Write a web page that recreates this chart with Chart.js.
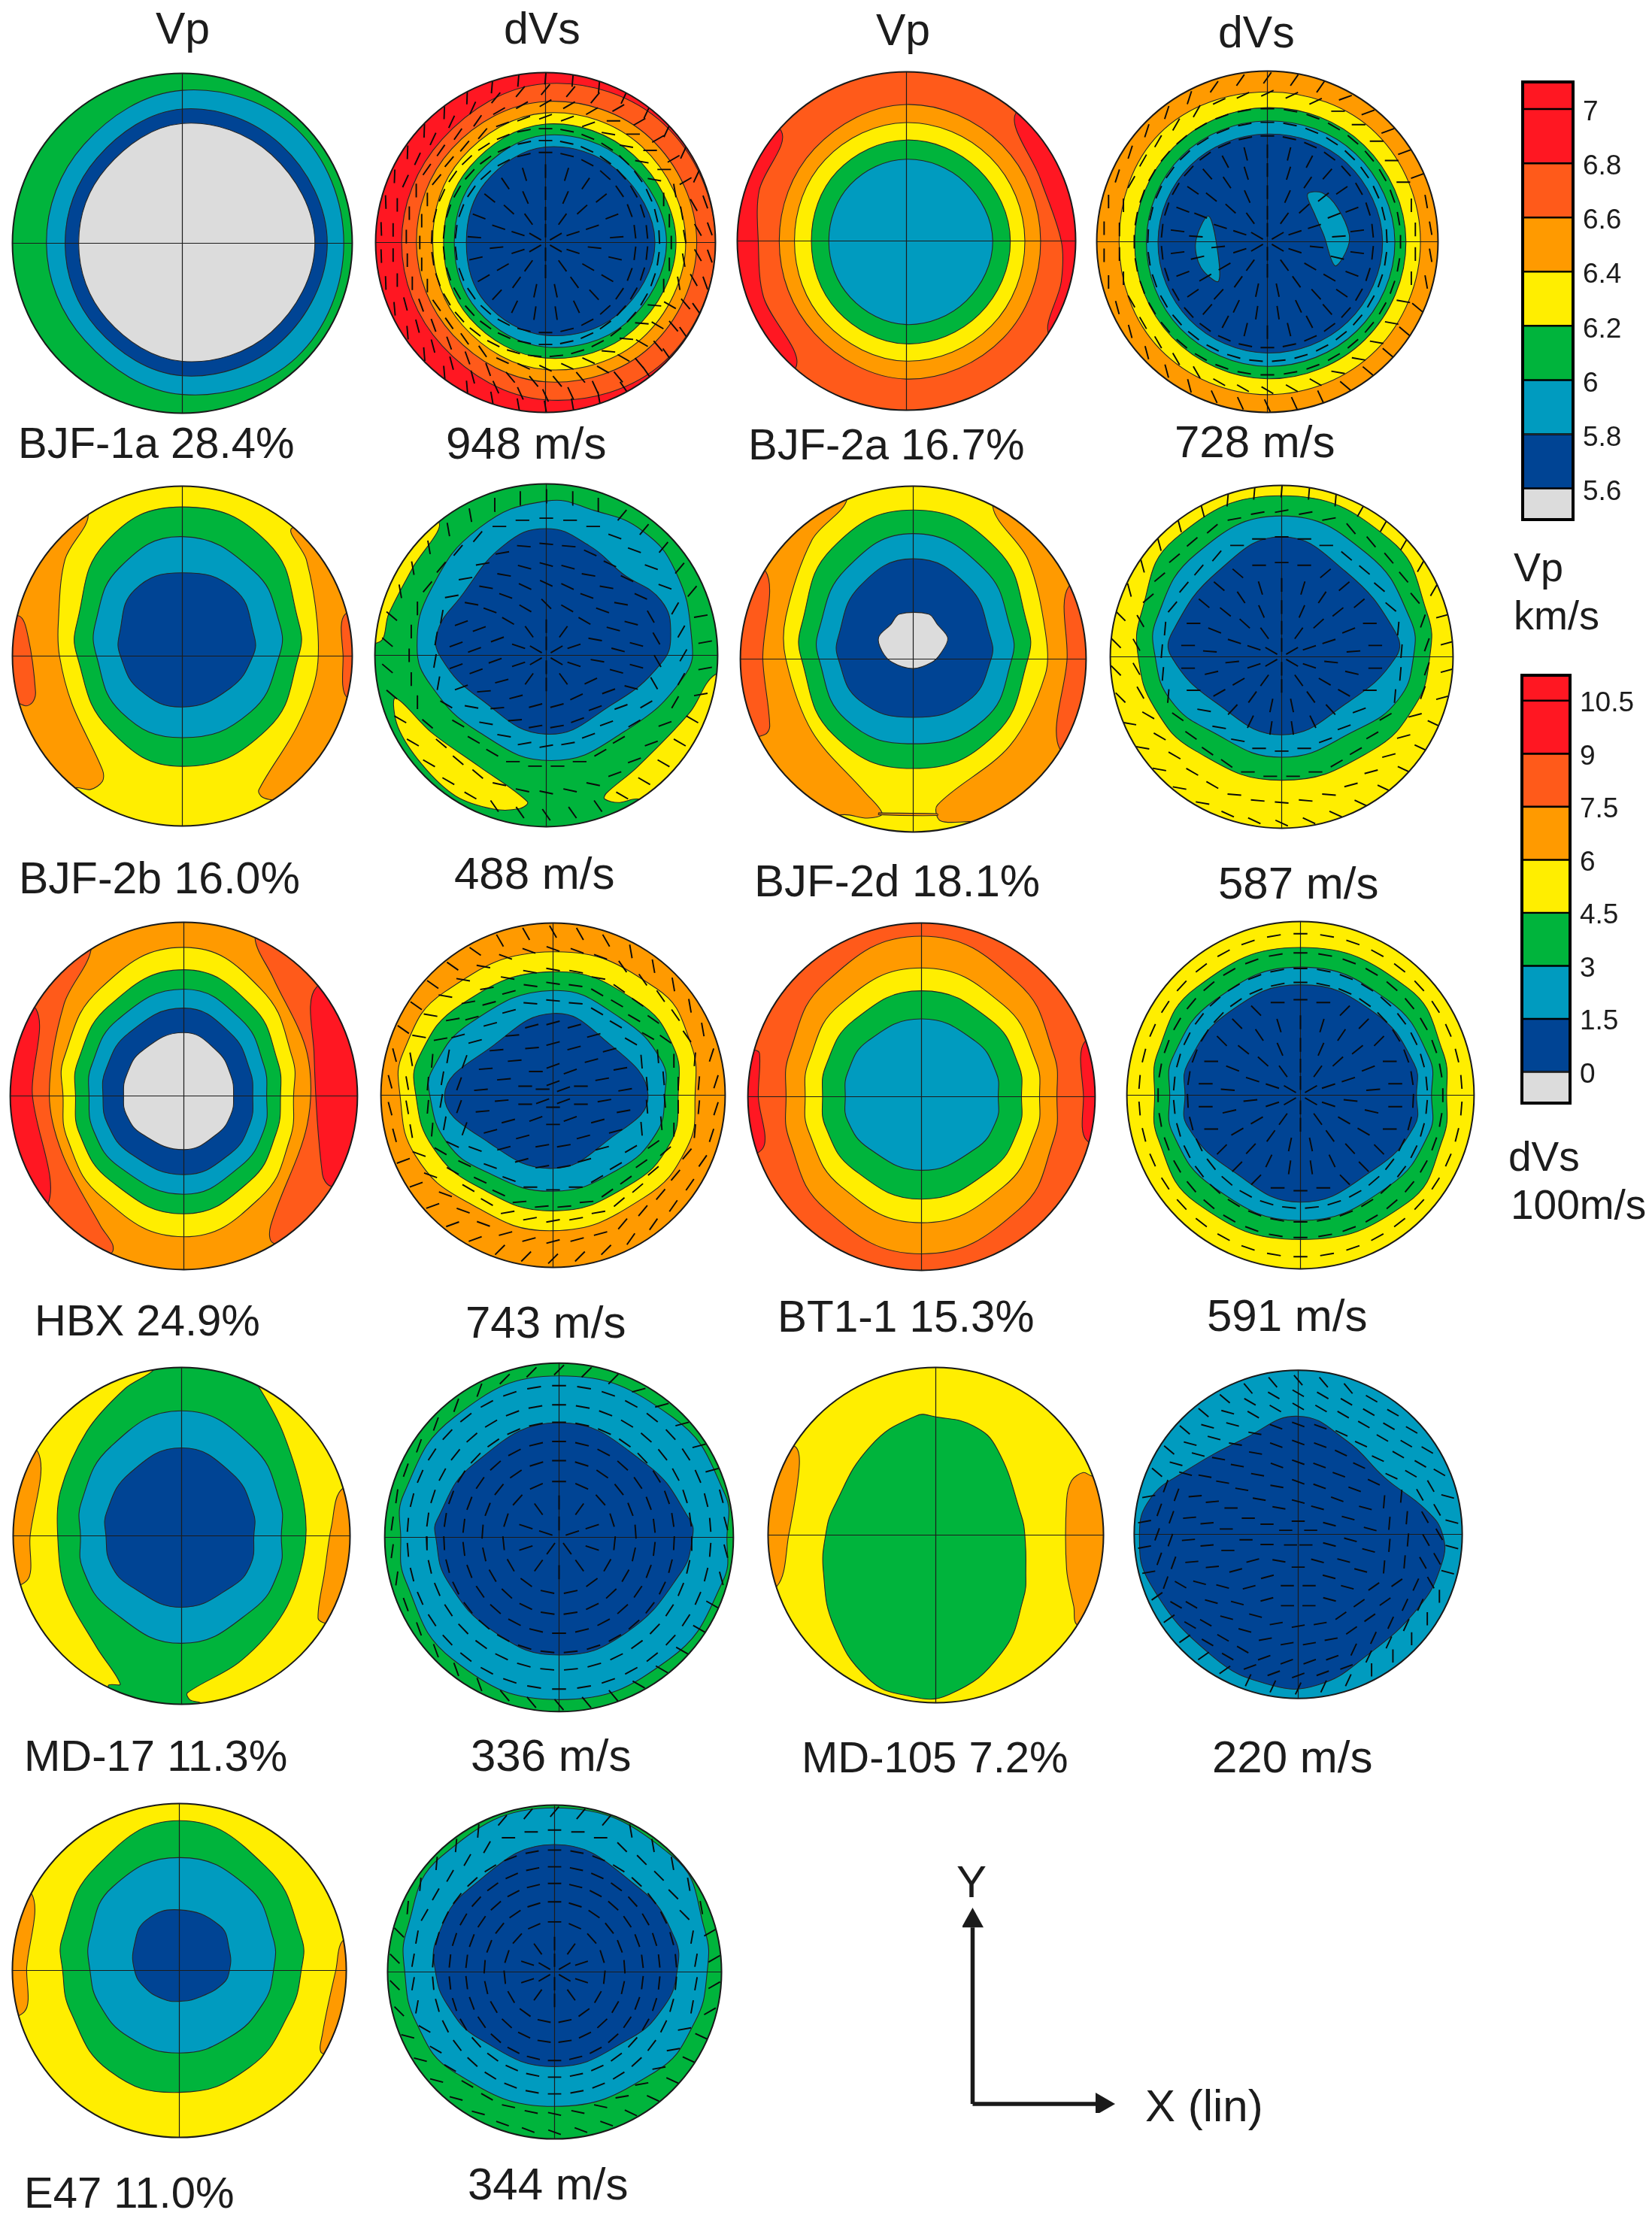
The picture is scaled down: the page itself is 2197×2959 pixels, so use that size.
<!DOCTYPE html>
<html><head><meta charset="utf-8">
<script src="https://cdn.jsdelivr.net/npm/chart.js@4"></script>
<style>
html,body{margin:0;padding:0;background:#fff;width:2197px;height:2959px;overflow:hidden}
canvas{position:absolute}
.t{position:absolute;font-family:"Liberation Sans",Arial,sans-serif;line-height:1;white-space:pre;color:#1c1c1c}
</style></head><body>
<script>
/* ---- colour bands: index = band, lowest first ---- */
const bandColors=['#dcdcdc','#004494','#009bbf','#00b43c','#ffee00','#ff9a00','#ff5a1a','#ff1722'];

/* ---- colour bars ---- */
const vpTicks=[5.6,5.8,6,6.2,6.4,6.6,6.8,7];
const vpBars=[[5.485,5.6],[5.6,5.8],[5.8,6],[6,6.2],[6.2,6.4],[6.4,6.6],[6.6,6.8],[6.8,7],[7,7.1]];
const vpBarBands=[0,1,2,3,4,5,6,7,7];
const dvsTicks=[0,1.5,3,4.5,6,7.5,9,10.5];
const dvsBars=[[-0.883,0],[0,1.5],[1.5,3],[3,4.5],[4.5,6],[6,7.5],[7.5,9],[9,10.5],[10.5,11.22]];
const dvsBarBands=[0,1,2,3,4,5,6,7,7];

/* ---- contours: [band, values]. 8 values = radius at E,NE,N,NW,W,SW,S,SE; otherwise x,y pairs on the unit net ---- */
const OUT=[1.3,1.3,1.3,1.3,1.3,1.3,1.3,1.3];
const vpBJF1a=[[3,OUT],
[2,[.95,.95,.9,.82,.8,.81,.89,.95]],
[1,[.853,.82,.79,.71,.69,.71,.78,.82]],
[0,[.78,.74,.705,.63,.61,.63,.695,.74]]];
const dvBJF1a=[[7,OUT],
[6,[1,.985,.935,.86,.847,.86,.926,.99]],
[5,[.89,.87,.83,.78,.76,.77,.82,.87]],
[4,[.825,.8,.763,.7,.664,.69,.748,.8]],
[3,[.768,.73,.697,.63,.6,.63,.68,.73]],
[2,[.712,.67,.632,.565,.537,.565,.615,.67]],
[1,[.644,.6,.562,.5,.466,.5,.546,.6]]];
const vpBJF2a=[[6,OUT],
[7,[-.74,.65,-.87,.3,-.876,0,-.845,-.33,-.655,-.75,-1.2,-1,-1.2,.9]],
[7,[.65,.76,.79,.37,.915,0,.915,-.24,.845,-.56,1.2,-.7,1.2,.9]],
[5,[.793,.8,.807,.77,.752,.77,.816,.81]],
[4,[.7,.7,.7,.68,.662,.68,.71,.71]],
[3,[.614,.6,.597,.58,.562,.58,.608,.61]],
[2,[.51,.49,.483,.47,.459,.47,.494,.5]]];
const dvBJF2a=[[5,OUT],
[4,[.897,.9,.878,.895,.869,.89,.896,.9]],
[3,[.812,.8,.786,.78,.778,.79,.803,.81]],
[2,[.747,.73,.708,.71,.709,.72,.73,.74]],
[1,[.675,.655,.631,.635,.641,.645,.652,.665]],
[2,[-.347,.151,-.3,0,-.286,-.231,-.39,-.15,-.42,0]],
[2,[.235,.278,.32,.287,.41,.2,.48,.04,.46,-.06,.395,-.14,.33,.04,.275,.166]]];
const vpBJF2b=[[4,OUT],
[5,[-.554,.83,-.69,.57,-.73,.195,-.723,0,-.65,-.28,-.47,-.67,-.47,-.737,-.54,-.785,-.63,-.775,-1.2,-.9,-1.2,.9,-.7,.95]],
[5,[.647,.754,.73,.567,.794,.195,.788,-.11,.675,-.415,.45,-.788,.47,-.83,.534,-.847,1.2,-.9,1.2,.8]],
[6,[-.963,.237,-.907,.11,-.864,-.21,-.88,-.27,-.92,-.293,-.98,-.27,-1.2,-.2,-1.2,.2]],
[6,[.958,.246,.946,0,.97,-.245,1.2,-.25,1.2,.25]],
[3,[.684,0,.684,.2,.5,.67,0,.878,-.45,.67,-.619,.2,-.619,0,-.43,-.43,0,-.649,.5,-.43]],
[2,[.57,0,.57,.2,.42,.5,0,.703,-.37,.52,-.51,.2,-.505,0,-.36,-.33,0,-.48,.4,-.33]],
[1,[.415,0,.42,.13,.31,.39,0,.49,-.28,.39,-.37,.13,-.364,0,-.25,-.2,0,-.3,.28,-.19]]];
const dvBJF2b=[[3,OUT],
[4,[-.63,.78,-.78,.51,-.92,.24,-.97,.08,-1.2,.1,-1.1,.8]],
[4,[-.88,-.25,-.67,-.45,-.39,-.65,-.11,-.855,-.154,-.894,-.307,-.897,-.53,-.82,-.726,-.636,-.866,-.417]],
[4,[.983,-.114,.838,-.333,.53,-.653,.35,-.805,.34,-.838,.42,-.859,.53,-.838,1.2,-.9,1.2,-.1]],
[2,[.846,.12,.754,.49,.56,.727,.28,.845,0,.9,-.39,.744,-.67,.39,-.754,.054,-.67,-.18,-.39,-.45,.028,-.614,.447,-.45,.81,-.114]],
[1,[.726,.12,.67,.32,.447,.475,.25,.64,0,.739,-.25,.64,-.5,.34,-.634,.14,-.615,-.013,-.39,-.25,0,-.46,.39,-.283,.67,-.047]]];
const vpBJF2d=[[4,OUT],
[5,[-.383,.925,-.585,.69,-.737,.244,-.737,0,-.585,-.42,-.28,-.77,-.18,-.894,-.264,-.92,-.4,-.9,-1.2,-.95,-1.2,.95,-.5,1.1]],
[5,[.46,.884,.663,.576,.764,.16,.764,-.09,.56,-.5,.14,-.844,.157,-.935,.325,-.94,1.2,-.95,1.2,.9,.6,1.1]],
[5,[-.2,-.89,.14,-.895,.14,-.905,-.2,-.9,-.2,-.89]],
[6,[-.855,.51,-.87,0,-.83,-.387,-.86,-.437,-1.2,-.5,-1.2,.5]],
[6,[.9,.42,.89,0,.848,-.52,1.2,-.6,1.2,.45]],
[3,[.663,0,.66,.2,.48,.64,0,.862,-.47,.64,-.645,.2,-.646,0,-.46,-.44,0,-.633,.47,-.44]],
[2,[.57,0,.565,.17,.41,.52,0,.726,-.39,.52,-.545,.17,-.545,0,-.39,-.35,0,-.49,.41,-.35]],
[1,[.45,0,.445,.13,.32,.42,0,.58,-.31,.42,-.433,.13,-.433,0,-.31,-.24,0,-.337,.32,-.24]],
[0,[-.08,.26,.09,.26,.14,.2,.2,.12,.157,.03,.106,-.02,0,-.055,-.12,-.02,-.18,.045,-.2,.127,-.13,.2]]];
const dvBJF2d=[[4,OUT],
[3,[.864,0,.85,.25,.63,.685,0,.94,-.626,.685,-.82,.25,-.837,0,-.74,-.3,-.5,-.55,0,-.72,.52,-.55,.78,-.28]],
[2,[.769,0,.75,.22,.5,.6,0,.822,-.5,.6,-.73,.22,-.738,0,-.65,-.25,-.42,-.43,0,-.586,.43,-.43,.68,-.25]],
[1,[.667,0,.66,.15,.37,.5,0,.7,-.37,.5,-.635,.15,-.643,0,-.38,-.27,0,-.455,.38,-.27]]];
const vpHBX=[[5,OUT],
[6,[-.535,.84,-.69,.53,-.775,.014,-.7,-.333,-.48,-.748,-.41,-.856,-.42,-.905,-1.2,-1,-1.2,1,-.6,1]],
[6,[.41,.91,.516,.677,.71,.246,.71,-.168,.5,-.748,.516,-.848,1.2,-1,1.2,1,.5,1]],
[7,[-.853,.503,-.873,.014,-.784,-.624,-1.2,-.7,-1.2,.55]],
[7,[.765,.627,.75,.246,.798,-.45,.848,-.52,1.2,-.55,1.2,.7]],
[4,[.632,0,.625,.22,.44,.62,0,.856,-.48,.62,-.69,.22,-.696,0,-.67,-.25,-.47,-.585,0,-.811,.44,-.585,.61,-.25]],
[3,[.557,0,.54,.2,.39,.52,0,.727,-.43,.52,-.61,.2,-.624,0,-.6,-.22,-.42,-.49,0,-.679,.38,-.49,.53,-.22]],
[2,[.477,0,.46,.18,.33,.44,0,.615,-.38,.44,-.53,.18,-.546,0,-.52,-.2,-.37,-.41,0,-.566,.32,-.41,.46,-.2]],
[1,[.397,0,.38,.15,.27,.36,0,.506,-.32,.36,-.45,.15,-.466,0,-.44,-.16,-.31,-.33,0,-.453,.27,-.33,.38,-.16]],
[0,[.286,0,.27,.12,.19,.26,0,.365,-.24,.26,-.33,.12,-.347,0,-.33,-.11,-.24,-.22,0,-.309,.19,-.22,.27,-.11]]];
const dvHBX=[[5,OUT],
[4,[.825,0,.8,.3,.6,.62,0,.833,-.63,.6,-.87,.25,-.889,0,-.8,-.35,-.5,-.62,0,-.787,.52,-.6,.78,-.3]],
[3,[.727,0,.7,.28,.48,.55,0,.717,-.53,.53,-.78,.22,-.797,0,-.7,-.3,-.44,-.53,0,-.672,.43,-.53,.68,-.28]],
[2,[.649,0,.63,.2,.39,.45,0,.608,-.48,.42,-.7,.15,-.716,0,-.62,-.27,-.4,-.44,0,-.558,.38,-.43,.6,-.22]],
[1,[.552,0,.295,.325,0,.475,-.345,.29,-.63,0,-.373,-.275,0,-.425,.323,-.258]]];
const vpBT1=[[6,OUT],
[7,[-.933,.249,-.94,0,-.916,-.3,-1.2,-.35,-1.2,.28,-.97,.27]],
[7,[.94,.316,.933,0,.95,-.25,1.2,-.3,1.2,.35]],
[5,[.78,0,.76,.25,.55,.66,0,.925,-.55,.66,-.76,.25,-.78,0,-.76,-.25,-.55,-.65,0,-.905,.56,-.65,.76,-.25]],
[4,[.68,0,.66,.2,.47,.53,0,.742,-.47,.53,-.65,.2,-.67,0,-.65,-.2,-.46,-.52,0,-.726,.47,-.52,.66,-.2]],
[3,[.576,0,.56,.18,.4,.44,0,.61,-.39,.44,-.55,.18,-.57,0,-.55,-.18,-.39,-.42,0,-.59,.4,-.42,.56,-.18]],
[2,[.442,0,.43,.14,.31,.32,0,.448,-.31,.32,-.425,.14,-.439,0,-.425,-.14,-.3,-.3,0,-.424,.31,-.3,.43,-.14]]];
const dvBT1=[[4,OUT],
[3,[.842,0,.82,.25,.615,.62,0,.851,-.6,.62,-.82,.25,-.84,0,-.82,-.25,-.6,-.62,0,-.831,.615,-.62,.82,-.25]],
[2,[.755,0,.74,.22,.5,.55,0,.738,-.49,.55,-.735,.22,-.753,0,-.735,-.22,-.5,-.53,0,-.722,.5,-.53,.74,-.22]],
[1,[.668,0,.655,.18,.42,.48,0,.636,-.41,.48,-.65,.18,-.665,0,-.65,-.18,-.4,-.43,0,-.616,.42,-.43,.655,-.18]]];
const vpMD17=[[4,OUT],
[5,[-.854,.5,-.9,-.01,-.92,-.267,-1.2,-.3,-1.2,.55]],
[5,[.954,.279,.89,.057,.849,-.216,.81,-.488,.857,-.519,1.2,-.55,1.2,.3]],
[3,[.464,.875,.606,.603,.726,.194,.726,-.113,.606,-.454,.35,-.744,.035,-.932,.05,-.974,.12,-1,0,-1.2,-.4,-1.1,-.435,-.889,-.364,-.88,-.506,-.659,-.692,-.318,-.735,-.011,-.72,.262,-.563,.62,-.335,.875,-.164,.986,0,1.2,.3,1.1]],
[2,[.592,0,.585,.2,.42,.53,0,.742,-.42,.53,-.595,.2,-.6,0,-.585,-.2,-.42,-.44,0,-.638,.42,-.44,.58,-.2]],
[1,[.429,0,.425,.14,.3,.37,0,.522,-.31,.37,-.445,.14,-.449,0,-.42,-.17,-.3,-.3,0,-.424,.3,-.3,.41,-.17]]];
const dvMD17=[[3,OUT],
[2,[.963,0,.95,.25,.65,.69,0,.926,-.6,.69,-.89,.25,-.908,0,-.88,-.25,-.61,-.7,0,-.931,.63,-.7,.94,-.25]],
[1,[.765,0,.75,.1,.5,.42,0,.658,-.49,.42,-.7,.1,-.707,0,-.64,-.25,-.36,-.55,0,-.675,.38,-.55,.7,-.2]]];
const vpMD105=[[4,OUT],
[5,[-.843,.53,-.814,.41,-.877,0,-.949,-.307,-1.2,-.35,-1.2,.6]],
[5,[.937,.351,.88,.373,.81,.325,.78,.206,.78,-.204,.823,-.426,.846,-.537,1.2,-.6,1.2,.4]],
[3,[.531,0,.509,.12,.366,.513,.226,.65,0,.705,-.12,.71,-.39,.53,-.606,.17,-.657,0,-.67,-.22,-.606,-.546,-.406,-.853,-.177,-.956,.08,-.95,.394,-.7,.523,-.375,.537,-.204]]];
const dvMD105=[[2,OUT],
[1,[.88,0,.778,.15,.53,.343,.295,.571,0,.72,-.32,.588,-.7,.378,-.9,.22,-.968,0,-.9,-.305,-.523,-.743,-.17,-.918,.12,-.918,.412,-.743,.734,-.445,.874,-.182]]];
const vpE47=[[4,OUT],
[5,[-.885,.459,-.914,.018,-.929,-.248,-1.2,-.28,-1.2,.5]],
[5,[.986,.185,.937,0,.857,-.381,.857,-.497,1.2,-.55,1.2,.2]],
[3,[.73,0,.73,.2,.52,.62,0,.897,-.5,.62,-.7,.2,-.699,0,-.65,-.25,-.42,-.6,0,-.73,.42,-.58,.66,-.25]],
[2,[.564,0,.56,.2,.41,.5,0,.676,-.4,.5,-.535,.2,-.535,0,-.48,-.2,-.3,-.4,0,-.494,.3,-.4,.5,-.2]],
[1,[.3,0,.3,.12,.24,.27,0,.363,-.2,.3,-.27,.15,-.268,0,-.21,-.1,-.1,-.17,0,-.185,.12,-.16,.26,-.08]]];
const dvE47=[[3,OUT],
[2,[.914,0,.9,.25,.71,.69,0,.983,-.68,.69,-.885,.25,-.897,0,-.83,-.3,-.6,-.6,0,-.805,.6,-.6,.84,-.3]],
[1,[.733,0,.72,.2,.51,.5,0,.763,-.51,.5,-.705,.2,-.713,0,-.64,-.2,-.45,-.4,0,-.567,.45,-.4,.66,-.2]]];

/* ---- polarisation ticks: [radius, count, frame, orientation deg]. frame 1 = relative to the radial direction,
   frame 0 = absolute. Orientation: one reading, or readings by sector E,NE,N,NW,W,SW,S,SE ---- */
const tkBJF1a=[[.07,6,1,0],[.17,10,1,0],[.29,15,1,0],[.42,21,1,0],[.53,26,1,90],[.6,30,1,90],[.67,33,1,90],
[.74,36,0,[90,-10,20,50,90,125,155,175]],[.82,37,0,[100,0,30,55,90,110,130,150]],[.9,38,0,[120,30,50,65,90,105,115,130]],[.97,38,0,[110,65,85,88,92,95,100,125]]];
const tkBJF2a=[[.07,6,1,0],[.17,10,1,0],[.29,15,1,0],[.42,21,1,0],[.53,26,1,0],[.62,30,1,90],[.7,33,1,90],[.78,36,1,90],
[.87,38,0,[90,0,25,60,90,120,150,170]],[.96,38,0,[100,20,55,72,90,105,115,140]]];
const tkBJF2b=[[.07,6,1,0],[.17,10,1,0],[.3,15,0,[-10,-30,-45,-30,20,15,15,25]],[.42,21,0,[-15,-20,-25,-20,20,5,10,20]],[.53,26,0,[-15,-10,-15,-10,20,-10,10,20]],
[.65,31,0,[-60,-25,-5,10,80,-30,0,30]],[.8,36,0,[60,-20,0,50,90,-40,-12,20]],[.93,38,0,[10,50,88,100,-40,-30,-55,-30]]];
const tkBJF2d=[[.07,6,1,0],[.17,10,1,0],[.29,15,1,0],[.42,21,1,0],[.55,26,0,[0,40,0,-40,0,-10,0,20]],
[.7,33,0,[85,-40,0,50,85,-35,0,30]],[.85,38,0,[70,-50,10,40,-60,-30,-5,15]],[.97,38,0,[15,60,85,105,-45,-10,-25,-25]]];
const tkHBX=[[.07,6,0,[0,20,20,0,0,20,0,20]],[.17,10,0,[0,20,20,0,0,20,0,20]],[.3,15,0,[10,15,15,5,5,15,10,15]],[.42,21,0,[10,15,15,5,5,15,10,15]],
[.55,26,0,[95,-30,-5,15,70,-20,0,30]],[.65,31,0,[95,-30,-8,15,80,-25,5,35]],[.73,34,0,[90,-35,-10,10,85,-30,10,40]],[.85,38,0,[85,125,160,170,100,-20,15,50]],[.95,38,0,[72,100,120,145,105,20,45,55]]];
const tkBT1=[[.07,6,1,0],[.17,10,1,0],[.29,15,1,0],[.42,21,1,0],[.55,26,0,[0,45,0,-45,0,45,0,-45]],[.65,31,1,90],[.73,34,1,90],[.82,36,1,90],[.93,38,1,90]];
const tkMD17=[[.08,5,1,0],[.2,10,1,0],[.32,15,1,90],[.44,21,1,90],[.55,26,1,90],[.66,31,1,90],[.76,35,1,90],[.87,38,1,90],
[.96,38,0,[105,15,45,70,82,110,130,150]]];
const tkMD105=[[.08,5,0,0],[.2,10,0,[-15,-15,-15,-10,0,-10,0,-15]],[.32,15,0,[-15,-20,-20,-10,0,15,0,-15]],[.44,21,0,[-15,-20,-20,-10,0,15,0,-15]],
[.56,26,0,[85,-25,-20,-10,5,-15,10,35]],[.67,31,0,[85,-25,-20,-10,5,-15,10,35]],[.78,35,0,[-60,-30,-30,-15,70,-30,20,65]],[.86,36,0,[-60,-30,-30,-15,70,-30,20,65]],[.94,38,0,[-15,-30,-50,-40,10,35,65,90]]];
const tkE47=[[.07,6,1,0],[.17,10,1,0],[.3,15,1,90],[.42,21,1,90],[.53,26,1,90],[.63,30,1,90],[.73,34,1,90],
[.85,38,0,[80,-45,0,60,80,-30,-12,10]],[.96,38,0,[30,100,50,85,-45,-15,-20,-25]]];

/* ---- labels ---- */
const vpLabels=['BJF-1a 28.4%','BJF-2a 16.7%','BJF-2b 16.0%','BJF-2d 18.1%','HBX 24.9%','BT1-1 15.3%','MD-17 11.3%','MD-105 7.2%','E47 11.0%'];
const dvLabels=['948 m/s','728 m/s','488 m/s','587 m/s','743 m/s','591 m/s','336 m/s','220 m/s','344 m/s'];

/* ---- layout (page pixels) ---- */
const nets=[
 [vpBJF1a,null,243,324,226],[dvBJF1a,tkBJF1a,726,323,226],[vpBJF2a,null,1205,320,225],[dvBJF2a,tkBJF2a,1686,322,227],
 [vpBJF2b,null,243,873,226],[dvBJF2b,tkBJF2b,727,872,228],[vpBJF2d,null,1215,877,230],[dvBJF2d,tkBJF2d,1705,874,228],
 [vpHBX,null,245,1458,231],[dvHBX,tkHBX,736,1457,229],[vpBT1,null,1226,1459,231],[dvBT1,tkBT1,1730,1457,231],
 [vpMD17,null,241,2042,224],[dvMD17,tkMD17,744,2045,232],[vpMD105,null,1244,2041,223],[dvMD105,tkMD105,1726,2040,218],
 [vpE47,null,238,2620,222],[dvE47,tkE47,737,2622,222]];
const texts=[['Vp',207,59,59],['dVs',670,59,59],['Vp',1165,61,59],['dVs',1620,64,59],
 [vpLabels[0],24,609,58],[dvLabels[0],593,611,60],[vpLabels[1],995,611,58],[dvLabels[1],1562,609,60],
 [vpLabels[2],25,1189,59],[dvLabels[2],604,1183,60],[vpLabels[3],1003,1193,60],[dvLabels[3],1620,1196,60],
 [vpLabels[4],46,1776,58],[dvLabels[4],619,1780,60],[vpLabels[5],1034,1772,58.5],[dvLabels[5],1605,1771,60],
 [vpLabels[6],32,2355,58],[dvLabels[6],626,2356,60],[vpLabels[7],1066,2357,58],[dvLabels[7],1612,2358,60],
 [vpLabels[8],32,2936,58],[dvLabels[8],622,2926,60],
 ['Vp',2013,773,54],['km/s',2013,837,54],['dVs',2006,1558,55],['100m/s',2009,1622,55],
 ['Y',1272,2524,60],['X (lin)',1523,2822,60]];
const INK='#1a1a1a', TICK_LEN=.08, PAD=1.02;

function shapePoints(v){
  const p=[];
  if(v.length===8){ v.forEach((r,i)=>{const a=i*Math.PI/4;p.push({x:r*Math.cos(a),y:r*Math.sin(a)})}); }
  else for(let i=0;i<v.length;i+=2)p.push({x:v[i],y:v[i+1]});
  return p;
}
function shapeTension(v){
  if(v.length===8)return .37;
  for(let i=0;i<v.length;i+=2) if(v[i]===0&&v[i+1]>0&&v[i+1]<1)return .45;
  return .33;
}
function tickPoints(rows){
  const p=[];
  rows.forEach(([r,n,frame,o])=>{
    for(let j=0;j<n;j++){
      const th=90+360*j/n;
      const sector=((Math.round(th/45)%8)+8)%8;
      const read=Array.isArray(o)?o[sector]:o;
      const ang=(frame?th+read:read)*Math.PI/180, cx=r*Math.cos(th*Math.PI/180), cy=r*Math.sin(th*Math.PI/180);
      const dx=TICK_LEN/2*Math.cos(ang), dy=TICK_LEN/2*Math.sin(ang);
      p.push({x:cx-dx,y:cy-dy},{x:cx+dx,y:cy+dy},{x:NaN,y:NaN});
    }
  });
  return p;
}
/* close the contour datasets as true loops so the library's spline and fill wrap round */
const closeLoops={id:'closeLoops',afterDatasetsUpdate(c){
  c.data.datasets.forEach((d,i)=>{ if(d.fill==='shape'){const l=c.getDatasetMeta(i).dataset;
    l._loop=true;l._fullLoop=true;l._pointsUpdated=false;l._segments=undefined;} });}};
const discClip={id:'discClip',
  beforeDatasetsDraw(c){const {ctx,scales:{x,y}}=c;ctx.save();ctx.beginPath();
    ctx.arc(x.getPixelForValue(0),y.getPixelForValue(0),x.getPixelForValue(1)-x.getPixelForValue(0),0,7);ctx.clip();},
  afterDatasetsDraw(c){const {ctx,scales:{x,y}}=c;ctx.restore();ctx.beginPath();
    ctx.arc(x.getPixelForValue(0),y.getPixelForValue(0),x.getPixelForValue(1)-x.getPixelForValue(0),0,7);
    ctx.strokeStyle=INK;ctx.lineWidth=2;ctx.stroke();}};
function place(l,t,w,h){const c=document.createElement('canvas');c.width=w;c.height=h;
  c.style.left=l+'px';c.style.top=t+'px';c.style.width=w+'px';c.style.height=h+'px';document.body.appendChild(c);return c;}
const hiddenAxis=(min,max)=>({type:'linear',display:false,min,max});

nets.forEach(([shapes,ticks,cx,cy,r])=>{
  const R=r*PAD, S=Math.round(2*R), cv=place(Math.round(cx-R),Math.round(cy-R),S,S);
  const ds=shapes.map(([band,v],i)=>({data:shapePoints(v),showLine:true,pointRadius:0,
    backgroundColor:bandColors[band],borderColor:i?'#262626':'rgba(0,0,0,0)',borderWidth:i?1.1:0,
    fill:'shape',tension:shapeTension(v),order:1000-i}));
  ds.push({data:[{x:-1,y:0},{x:1,y:0},{x:NaN,y:NaN},{x:0,y:-1},{x:0,y:1}],showLine:true,pointRadius:0,borderColor:'#1c1c1c',borderWidth:1.2,fill:false,tension:0,order:2});
  if(ticks)ds.push({data:tickPoints(ticks),showLine:true,pointRadius:0,borderColor:'#0a0a0a',borderWidth:1.9,fill:false,tension:0,spanGaps:false,order:1});
  new Chart(cv,{type:'scatter',data:{datasets:ds},plugins:[closeLoops,discClip],options:{responsive:false,animation:false,devicePixelRatio:1,
    layout:{padding:0},plugins:{legend:{display:false},tooltip:{enabled:false}},events:[],
    scales:{x:hiddenAxis(-PAD,PAD),y:hiddenAxis(-PAD,PAD)}}});
});

/* colour bars */
const barFrame={id:'barFrame',afterDatasetsDraw(c){const {ctx,chartArea:a}=c;ctx.save();ctx.strokeStyle='#000';ctx.lineWidth=4;
  ctx.strokeRect(a.left,a.top,a.right-a.left,a.bottom-a.top);ctx.restore();}};
function colourBar(left,top,barW,barH,bars,bands,ticks,minV,maxV,off){
  const cv=place(left-6,top-6,barW+100,barH+12);
  new Chart(cv,{type:'bar',plugins:[barFrame],
    data:{labels:[''],datasets:bars.map((b,i)=>({data:[b],backgroundColor:bandColors[bands[i]],borderColor:'#000',borderWidth:1.6,borderSkipped:false,grouped:false,barPercentage:1,categoryPercentage:1}))},
    options:{responsive:false,animation:false,devicePixelRatio:1,events:[],layout:{padding:{left:6,top:6,bottom:6,right:0}},
      plugins:{legend:{display:false},tooltip:{enabled:false}},
      scales:{x:{display:false,grid:{display:false}},
        y:{position:'right',min:minV,max:maxV,grid:{display:false},border:{display:false},
           afterFit(a){a.width=94;a.paddingTop=0;a.paddingBottom=0;},
           afterBuildTicks(a){a.ticks=ticks.map(v=>({value:v}));},
           ticks:{autoSkip:false,padding:5,labelOffset:off,color:'#1c1c1c',font:{family:'"Liberation Sans",Arial,sans-serif',size:37},callback:v=>String(v),drawTicks:false},
        }}}});
}
colourBar(2025,109,67,582,vpBars,vpBarBands,vpTicks,5.485,7.1,5);
colourBar(2024,898,64,569,dvsBars,dvsBarBands,dvsTicks,-.883,11.22,4);

/* Y / X direction arrows */
const shaftY=[0,0,0,.9], shaftX=[0,0,.863,0];
const headY=[-.0765,.9,.0765,.9,0,1], headX=[.863,-.0575,.863,.0575,1,0];
const toPts=v=>{const p=[];for(let i=0;i<v.length;i+=2)p.push({x:v[i],y:v[i+1]});return p;};
new Chart(place(1280,2530,210,280),{type:'scatter',data:{datasets:[
  {data:toPts(shaftY),showLine:true,pointRadius:0,borderColor:INK,borderWidth:5.5,tension:0},
  {data:toPts(shaftX),showLine:true,pointRadius:0,borderColor:INK,borderWidth:5.5,tension:0},
  {data:toPts(headY).concat(toPts(headY.slice(0,2))),showLine:true,pointRadius:0,borderWidth:0,backgroundColor:INK,fill:'shape',tension:0},
  {data:toPts(headX).concat(toPts(headX.slice(0,2))),showLine:true,pointRadius:0,borderWidth:0,backgroundColor:INK,fill:'shape',tension:0}]},
  options:{responsive:false,animation:false,devicePixelRatio:1,events:[],layout:{padding:0},plugins:{legend:{display:false},tooltip:{enabled:false}},
  scales:{x:hiddenAxis(-.0712,1.037),y:hiddenAxis(-.046,1.027)}}});

texts.forEach(([s,x,base,fs])=>{const d=document.createElement('div');d.className='t';d.textContent=s;
  d.style.left=x+'px';d.style.top=(base-.8465*fs)+'px';d.style.fontSize=fs+'px';document.body.appendChild(d);});
</script>
</body></html>
